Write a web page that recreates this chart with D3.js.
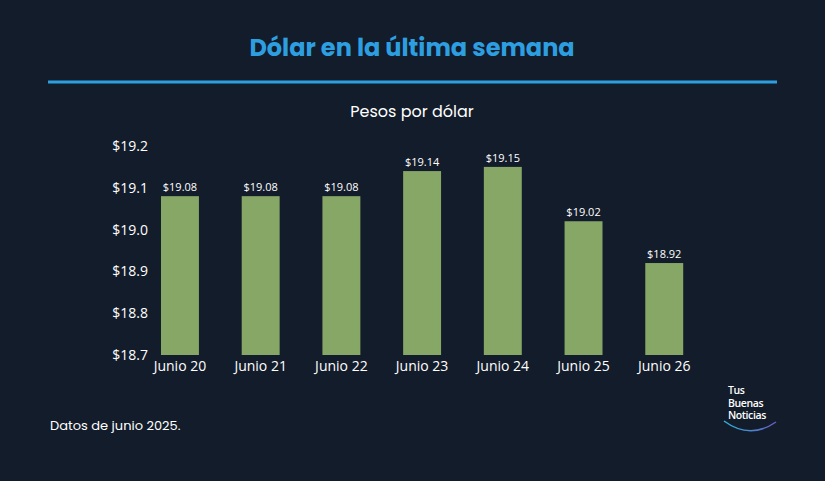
<!DOCTYPE html>
<html><head><meta charset="utf-8">
<script src="https://cdn.jsdelivr.net/npm/d3@7"></script>
<style>body{margin:0;background:#131c2a}</style>
</head><body><svg id="chart" width="825" height="481"></svg>
<script>
const days = ["Junio 20","Junio 21","Junio 22","Junio 23","Junio 24","Junio 25","Junio 26"];
const rates = [19.08,19.08,19.08,19.14,19.15,19.02,18.92];
const yTicks = [18.7,18.8,18.9,19.0,19.1,19.2];

const svg = d3.select("#chart");
const font = "Poppins, 'Open Sans', sans-serif";
const font2 = "'Open Sans', sans-serif";
svg.append("rect").attr("width",825).attr("height",481).attr("fill","#131c2a");

svg.append("text").attr("x",412).attr("y",56).attr("text-anchor","middle")
  .attr("fill","#2d9fe0").attr("font-family",font).attr("font-weight","bold")
  .attr("font-size",24).text("Dólar en la última semana");
svg.append("line").attr("x1",48).attr("x2",777).attr("y1",82).attr("y2",82)
  .attr("stroke","#2d9fe0").attr("stroke-width",3);
svg.append("text").attr("x",412).attr("y",117).attr("text-anchor","middle")
  .attr("fill","#fff").attr("font-family",font).attr("font-size",16).text("Pesos por dólar");

const x = d3.scaleBand().domain(days).range([139.6,704.6]).paddingInner(0.53).paddingOuter(0.265);
const y = d3.scaleLinear().domain([18.7,19.2]).range([355,146]);

const yAxis = svg.append("g").attr("transform","translate(150,0)")
  .call(d3.axisLeft(y).tickValues(yTicks).tickSize(0).tickPadding(2).tickFormat(d => "$" + d.toFixed(1)));
yAxis.select(".domain").remove();
yAxis.selectAll("text").attr("fill","#fff").attr("font-family",font2).attr("font-size",14);

svg.append("g").selectAll("rect").data(rates).join("rect")
  .attr("x",(d,i)=>x(days[i])).attr("width",x.bandwidth())
  .attr("y",d=>y(d)).attr("height",d=>y(18.7)-y(d)).attr("fill","#87a766");
svg.append("g").selectAll("text").data(rates).join("text")
  .attr("x",(d,i)=>x(days[i])+x.bandwidth()/2).attr("y",d=>y(d)-5)
  .attr("text-anchor","middle").attr("fill","#fff").attr("font-family",font2).attr("font-size",11)
  .text(d=>"$"+d.toFixed(2));

const xAxis = svg.append("g").attr("transform","translate(0,355)")
  .call(d3.axisBottom(x).tickSize(0).tickPadding(6));
xAxis.select(".domain").remove();
xAxis.selectAll("text").attr("fill","#fff").attr("font-family",font2).attr("font-size",14);

svg.append("text").attr("x",50).attr("y",430).attr("fill","#fff").attr("font-family",font)
  .attr("font-size",13).text("Datos de junio 2025.");

const logo = svg.append("g").attr("font-family",font2).attr("fill","#fff").attr("font-size",10.5).attr("font-weight","600");
["Tus","Buenas","Noticias"].forEach((t,i)=>logo.append("text").attr("x",728).attr("y",394+i*12.5).attr("letter-spacing",-0.4).text(t));
const grad = svg.append("defs").append("linearGradient").attr("id","lg");
grad.append("stop").attr("offset","0").attr("stop-color","#2bb3d9");
grad.append("stop").attr("offset","1").attr("stop-color","#6a5bc4");
svg.append("path").attr("d","M724,421 Q750,440 776,422").attr("fill","none")
  .attr("stroke","url(#lg)").attr("stroke-width",1.5);
</script></body></html>
